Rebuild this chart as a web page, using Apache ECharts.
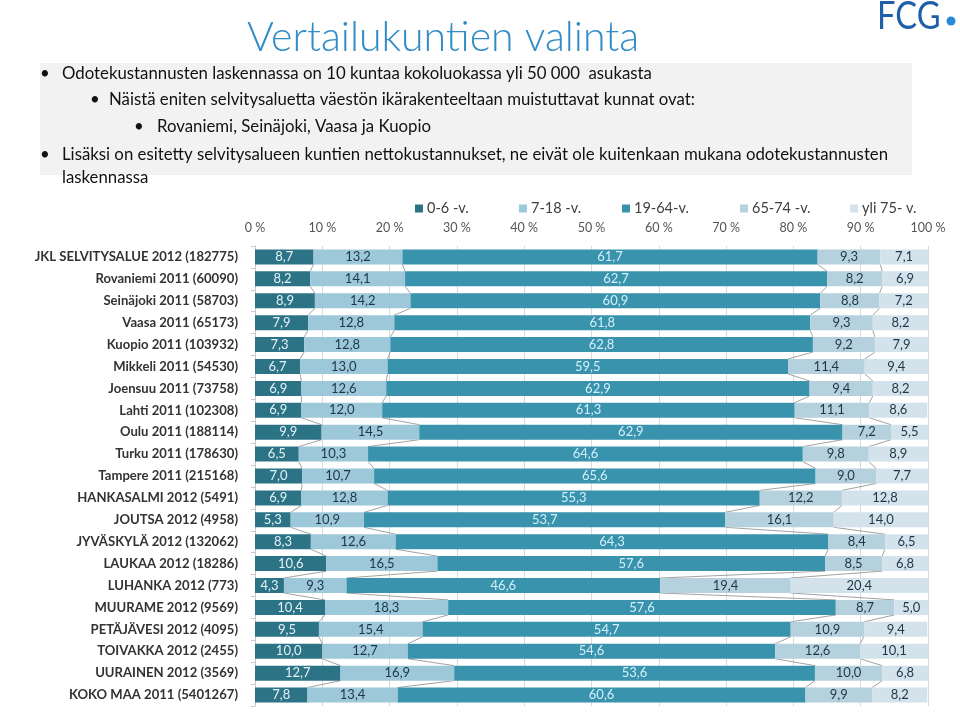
<!DOCTYPE html>
<html>
<head>
<meta charset="utf-8">
<script src="https://cdn.jsdelivr.net/npm/echarts@6/dist/echarts.min.js"></script>
<style>
html,body{margin:0;padding:0;background:#fff;}
#c{width:960px;height:713px;}
</style>
</head>
<body>
<div id="c"></div>
<script>
const categories = [
  'JKL SELVITYSALUE 2012 (182775)','Rovaniemi 2011 (60090)','Seinäjoki 2011 (58703)','Vaasa 2011 (65173)',
  'Kuopio 2011 (103932)','Mikkeli 2011 (54530)','Joensuu 2011 (73758)','Lahti 2011 (102308)',
  'Oulu 2011 (188114)','Turku 2011 (178630)','Tampere 2011 (215168)','HANKASALMI 2012 (5491)',
  'JOUTSA 2012 (4958)','JYVÄSKYLÄ 2012 (132062)','LAUKAA 2012 (18286)','LUHANKA 2012 (773)',
  'MUURAME 2012 (9569)','PETÄJÄVESI 2012 (4095)','TOIVAKKA 2012 (2455)','UURAINEN 2012 (3569)',
  'KOKO MAA 2011 (5401267)'
];
const seriesNames = ['0-6 -v.','7-18 -v.','19-64-v.','65-74 -v.','yli 75- v.'];
const age0_6   = [8.7,8.2,8.9,7.9,7.3,6.7,6.9,6.9,9.9,6.5,7.0,6.9,5.3,8.3,10.6,4.3,10.4,9.5,10.0,12.7,7.8];
const age7_18  = [13.2,14.1,14.2,12.8,12.8,13.0,12.6,12.0,14.5,10.3,10.7,12.8,10.9,12.6,16.5,9.3,18.3,15.4,12.7,16.9,13.4];
const age19_64 = [61.7,62.7,60.9,61.8,62.8,59.5,62.9,61.3,62.9,64.6,65.6,55.3,53.7,64.3,57.6,46.6,57.6,54.7,54.6,53.6,60.6];
const age65_74 = [9.3,8.2,8.8,9.3,9.2,11.4,9.4,11.1,7.2,9.8,9.0,12.2,16.1,8.4,8.5,19.4,8.7,10.9,12.6,10.0,9.9];
const age75    = [7.1,6.9,7.2,8.2,7.9,9.4,8.2,8.6,5.5,8.9,7.7,12.8,14.0,6.5,6.8,20.4,5.0,9.4,10.1,6.8,8.2];
const xTicks = [0,10,20,30,40,50,60,70,80,90,100];

const allSeries = [age0_6, age7_18, age19_64, age65_74, age75];
const colors = ['#2d7386','#9cc8d9','#3a93ad','#b5d1de','#d4e3eb'];
const labelColors = ['#e4f3f8','#1e3646','#d2f0fb','#1e3646','#1e3646'];
const fmt = v => v.toFixed(1).replace('.', ',');

// cumulative boundaries for series lines
const cum = categories.map((c, i) => {
  let s = 0; const out = [];
  for (let k = 0; k < 4; k++) { s += allSeries[k][i]; out.push(s); }
  return out;
});
const lineData = [];
for (let i = 0; i < categories.length - 1; i++) {
  lineData.push([i].concat(cum[i], cum[i + 1]));
}
const BAR_W = 15;

const chart = echarts.init(document.getElementById('c'));
const series = allSeries.map((arr, k) => ({
  name: seriesNames[k],
  type: 'bar',
  stack: 'total',
  barWidth: BAR_W,
  data: arr,
  itemStyle: { color: colors[k] },
  label: {
    show: true, position: 'inside',
    color: labelColors[k], fontSize: 13, fontFamily: 'Lato',
    formatter: p => fmt(p.value)
  },
  z: 3
}));
series.push({
  name: 'seriesLines',
  type: 'custom',
  data: lineData,
  encode: { x: [1,2,3,4,5,6,7,8], y: 0 },
  z: 2,
  silent: true,
  renderItem: (params, api) => {
    const i = api.value(0);
    const children = [];
    for (let k = 0; k < 4; k++) {
      const a = api.coord([api.value(1 + k), i]);
      const b = api.coord([api.value(5 + k), i + 1]);
      children.push({
        type: 'line',
        shape: { x1: a[0], y1: a[1] + BAR_W / 2, x2: b[0], y2: b[1] - BAR_W / 2 },
        style: { stroke: '#8a8a8a', lineWidth: 0.8 }
      });
    }
    return { type: 'group', children };
  }
});

const legendLeft = [410, 514, 617, 735, 845];
const legends = seriesNames.map((n, k) => ({
  data: [n],
  left: legendLeft[k], top: 196,
  itemWidth: 8, itemHeight: 8, itemGap: 10,
  icon: 'rect',
  textStyle: { fontSize: 14.5, color: '#404040', fontFamily: 'Lato', padding: [0, 0, 0, -1] }
}));

const T = 16.8;
const tx = (text, x, cy) => ({ type: 'text', x: x, y: cy, style: { text, fill: '#111', fontSize: T, fontFamily: 'Lato', textVerticalAlign: 'middle' } });

chart.setOption({
  animation: false,
  textStyle: { fontFamily: 'Lato' },
  grid: { left: 255, right: 32, top: 246, bottom: 7 },
  legend: legends,
  xAxis: {
    type: 'value', position: 'top', min: 0, max: 100, interval: 10,
    axisLine: { show: false }, axisTick: { show: false },
    axisLabel: { formatter: v => v + ' %', color: '#555', fontSize: 12.5, margin: 12, fontFamily: 'Lato' },
    splitLine: { show: true, lineStyle: { color: '#d9d9d9', width: 1 } }
  },
  yAxis: {
    type: 'category', data: categories, inverse: true,
    axisLine: { show: true, lineStyle: { color: '#c8c8c8' } },
    axisTick: { show: true, length: 4, lineStyle: { color: '#c8c8c8' } },
    axisLabel: { color: '#333', fontSize: 13.1, fontWeight: 'bold', fontFamily: 'Lato', margin: 17 }
  },
  graphic: [
    { type: 'text', x: 247, y: 38, style: { text: 'Vertailukuntien valinta', fill: '#2f8cc6', fontSize: 41, fontFamily: 'Lato', fontWeight: 300, textVerticalAlign: 'middle' } },
    { type: 'text', x: 877, y: 17, scaleX: 0.86, style: { text: 'FCG', fill: '#1f5fa8', fontSize: 38, fontFamily: 'Lato', fontWeight: 'normal', textVerticalAlign: 'middle' } },
    { type: 'circle', shape: { cx: 951, cy: 21, r: 4.5 }, style: { fill: '#2b8ad6' } },
    { type: 'rect', shape: { x: 40, y: 63, width: 872, height: 112 }, style: { fill: '#f2f2f2' }, z: -1 },
    tx('•', 40, 74),
    tx('Odotekustannusten laskennassa on 10 kuntaa kokoluokassa yli 50 000  asukasta', 62, 74),
    tx('•', 90, 100),
    tx('Näistä eniten selvitysaluetta väestön ikärakenteeltaan muistuttavat kunnat ovat:', 109, 100),
    tx('•', 134, 127),
    tx('Rovaniemi, Seinäjoki, Vaasa ja Kuopio', 157, 127),
    tx('•', 40, 155),
    tx('Lisäksi on esitetty selvitysalueen kuntien nettokustannukset, ne eivät ole kuitenkaan mukana odotekustannusten', 62, 155),
    tx('laskennassa', 62, 178)
  ],
  series
});
</script>
</body>
</html>
